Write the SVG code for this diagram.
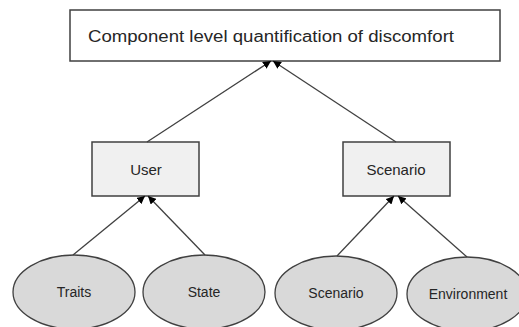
<svg xmlns="http://www.w3.org/2000/svg" width="519" height="327" viewBox="0 0 519 327">
<style>
.box{fill:#f0f0f0;stroke:#404040;stroke-width:1.5}
.top{fill:#ffffff;stroke:#404040;stroke-width:1.5}
.ell{fill:#d9d9d9;stroke:#404040;stroke-width:1.3}
text{font-family:"Liberation Sans",Arial,sans-serif;fill:#262626;text-anchor:middle}
.t1{font-size:16px}
.t2{font-size:15px}
.t3{font-size:14px}
.con line{stroke:#404040;stroke-width:1.3;marker-end:url(#arr)}
</style>
<defs>
<marker id="arr" viewBox="0 0 10 10" refX="10" refY="5" markerWidth="8" markerHeight="8" markerUnits="userSpaceOnUse" orient="auto">
<path d="M0,0 L10,5 L0,10 z" fill="#000"/>
</marker>
</defs>
<rect width="519" height="327" fill="#fff"/>
<g id="top">
<rect class="top" x="70" y="10" width="430" height="51"/>
<text class="t1" x="271" y="42" textLength="366" lengthAdjust="spacingAndGlyphs">Component level quantification of discomfort</text>
</g>
<g id="user">
<rect class="box" x="92" y="142" width="107" height="54"/>
<text class="t2" x="146" y="175">User</text>
</g>
<g id="scenario">
<rect class="box" x="343" y="142" width="107" height="54"/>
<text class="t2" x="396" y="175">Scenario</text>
</g>
<g id="traits">
<ellipse class="ell" cx="74" cy="292" rx="61" ry="37"/>
<text class="t3" x="74" y="297">Traits</text>
</g>
<g id="state">
<ellipse class="ell" cx="204" cy="292" rx="61" ry="37"/>
<text class="t3" x="204" y="297">State</text>
</g>
<g id="scenario2">
<ellipse class="ell" cx="336" cy="293" rx="61" ry="37"/>
<text class="t3" x="336" y="298">Scenario</text>
</g>
<g id="environment">
<ellipse class="ell" cx="467" cy="294" rx="60" ry="37"/>
<text class="t3" x="468" y="299">Environment</text>
</g>
<g class="con" id="connectors">
<line x1="147" y1="142" x2="271" y2="61"/>
<line x1="396" y1="142" x2="273" y2="61"/>
<line x1="73" y1="255" x2="145" y2="196"/>
<line x1="205" y1="255" x2="148" y2="196"/>
<line x1="337" y1="256" x2="394" y2="196"/>
<line x1="467" y1="257" x2="398" y2="196"/>
</g>
</svg>
